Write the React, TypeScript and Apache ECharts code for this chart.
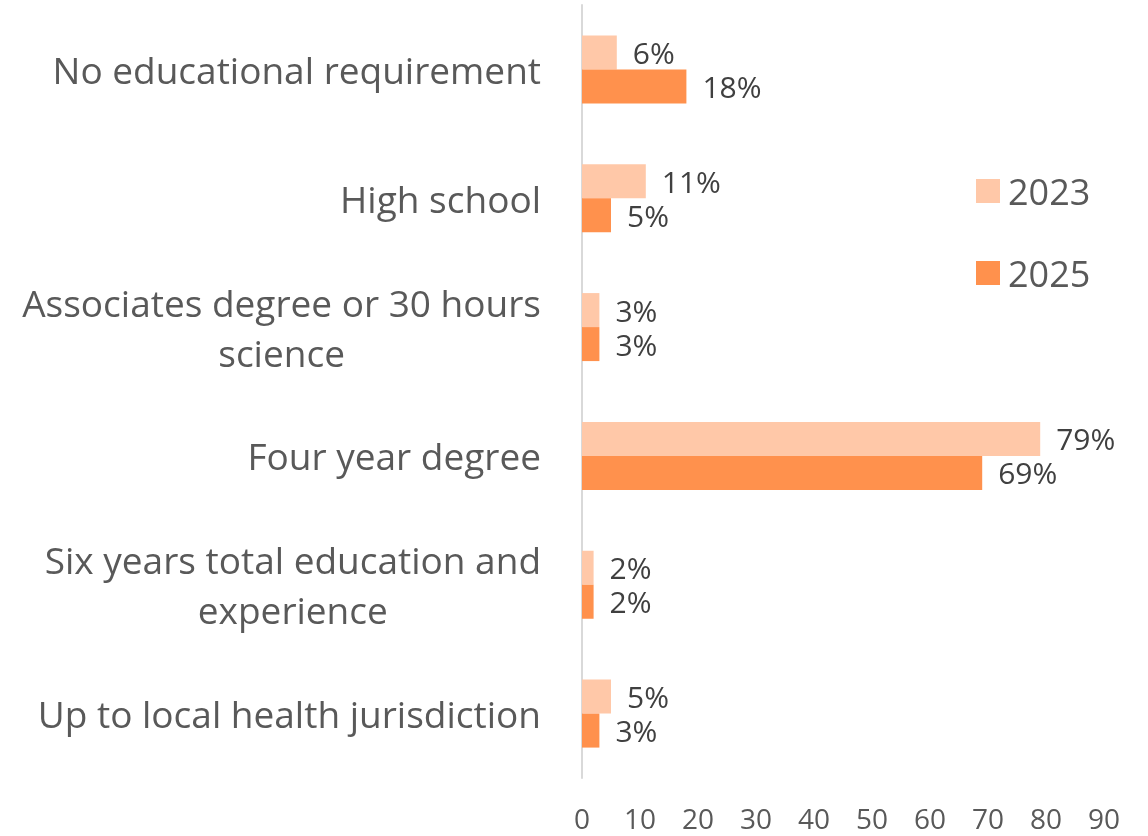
import React, { useEffect, useRef } from "react";
import * as echarts from "echarts";

const categories = [
  "No educational requirement",
  "High school",
  "Associates degree or 30 hours\nscience",
  "Four year degree",
  "Six years total education and\nexperience",
  "Up to local health jurisdiction",
];
const values2023 = [6, 11, 3, 79, 2, 5];
const values2025 = [18, 5, 3, 69, 2, 3];
const xTicks = [0, 10, 20, 30, 40, 50, 60, 70, 80, 90];

const FONT = "'Open Sans', 'Noto Sans', sans-serif";

export default function App() {
  const ref = useRef<HTMLDivElement>(null);
  useEffect(() => {
    if (!ref.current) return;
    const chart = echarts.init(ref.current, undefined, { renderer: "svg" });
    const valueLabel = {
      show: true,
      position: "right",
      distance: 16,
      formatter: "{c}%",
      fontSize: 30,
      lineHeight: 30,
      color: "#404040",
      fontFamily: FONT,
    };
    chart.setOption({
      animation: false,
      textStyle: { fontFamily: FONT },
      grid: { left: 582, right: 44, top: 5, bottom: 58, containLabel: false },
      legend: {
        orient: "vertical",
        left: 971,
        top: 168,
        itemWidth: 24,
        itemHeight: 24,
        itemGap: 46,
        icon: "rect",
        data: ["2023", "2025"],
        textStyle: { fontSize: 36, color: "#595959", fontFamily: FONT, lineHeight: 36, padding: [0, 0, 0, 3] },
      },
      xAxis: {
        type: "value",
        min: xTicks[0],
        max: xTicks[xTicks.length - 1],
        interval: 10,
        splitLine: { show: false },
        axisLine: { show: false },
        axisTick: { show: false },
        axisLabel: { fontSize: 28, color: "#595959", margin: 26, fontFamily: FONT },
      },
      yAxis: {
        type: "category",
        inverse: true,
        data: categories,
        axisLine: { show: true, lineStyle: { color: "#d9d9d9", width: 2 } },
        axisTick: { show: false },
        axisLabel: {
          margin: 41,
          color: "#595959",
          fontFamily: FONT,
          formatter: (v: string) => v.split("\n").map((l) => `{a|${l}}`).join("\n"),
          rich: {
            a: { fontSize: 37, lineHeight: 50, color: "#595959", fontFamily: FONT, align: "center" },
          },
        },
      },
      series: [
        {
          name: "2023",
          type: "bar",
          data: values2023,
          barWidth: 34,
          barGap: "0%",
          itemStyle: { color: "#FFC8A8" },
          label: valueLabel,
        },
        {
          name: "2025",
          type: "bar",
          data: values2025,
          barWidth: 34,
          barGap: "0%",
          itemStyle: { color: "#FF914D" },
          label: valueLabel,
        },
      ],
    });
    return () => chart.dispose();
  }, []);
  return <div ref={ref} style={{ position: "fixed", left: 0, top: 0, width: 1148, height: 836 }} />;
}
